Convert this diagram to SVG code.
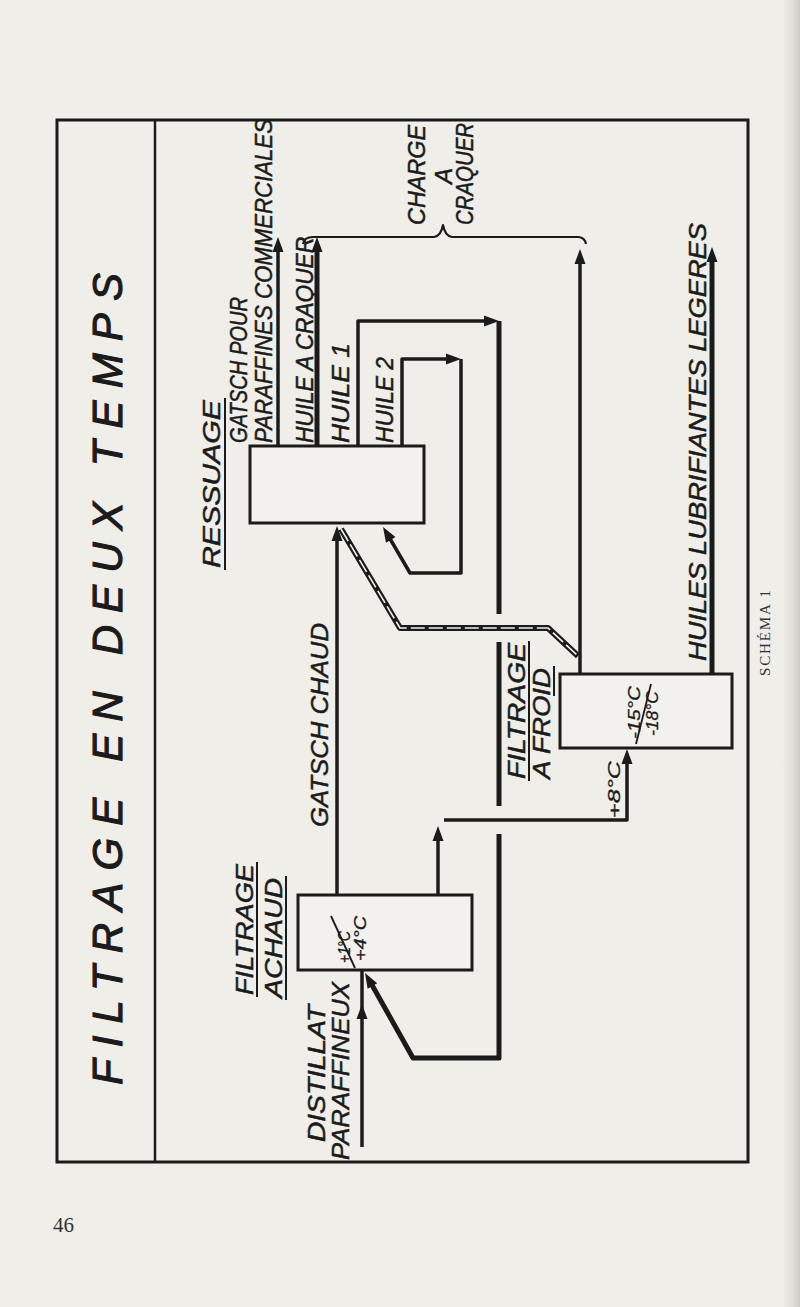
<svg xmlns="http://www.w3.org/2000/svg" xmlns:xlink="http://www.w3.org/1999/xlink" width="800" height="1307" viewBox="0 0 800 1307">
<style>
.ln{fill:none;stroke:#1b1b1b;stroke-width:3.5;stroke-linejoin:round;stroke-linecap:butt}
.thk{stroke-width:5}
.thin{stroke-width:2.2}
.box{fill:#f3f1ed;stroke:#1b1b1b;stroke-width:3}
.lbl{font-family:"Liberation Sans",Arial,sans-serif;font-style:italic;font-size:24px;fill:#1b1b1b;stroke:#1b1b1b;stroke-width:0.5}
.big{font-size:42px;stroke-width:1.1}
.sm{font-size:16px;stroke-width:0.3}
.ul{stroke:#1b1b1b;stroke-width:2}
.ah{fill:#1b1b1b}
.pg{font-family:"Liberation Serif","Times New Roman",serif;fill:#333}
</style>
<defs>
<path id="ah" d="M0,0 L-15,-5.5 L-15,5.5 Z"/>
<linearGradient id="edge" x1="0" y1="0" x2="1" y2="0">
<stop offset="0" stop-color="#dcd9d4" stop-opacity="0"/>
<stop offset="1" stop-color="#c9c6c1" stop-opacity="0.9"/>
</linearGradient>
</defs>
<rect width="800" height="1307" fill="#f0eee9"/>
<rect x="782" y="0" width="18" height="1307" fill="url(#edge)"/>

<g id="frame">
<rect x="57" y="120" width="691" height="1042" fill="none" stroke="#1b1b1b" stroke-width="3"/>
<line x1="155" y1="120" x2="155" y2="1162" stroke="#1b1b1b" stroke-width="2.5"/>
<text class="lbl big" transform="translate(122,1085) rotate(-90)" textLength="812" lengthAdjust="spacing">FILTRAGE EN DEUX TEMPS</text>
</g>

<g id="connectors">
<line class="ln" x1="278" y1="446" x2="278" y2="250"/>
<use href="#ah" class="ah" transform="translate(278,237) rotate(-90)"/>
<line class="ln thk" x1="317" y1="446" x2="317" y2="250"/>
<use href="#ah" class="ah" transform="translate(317,237) rotate(-90)"/>
<path class="ln thin" d="M303,244 Q304,237 313,237 L434,237 Q441,236 443,225 Q445,236 452,237 L579,237 Q585,238 586,244"/>
<polyline class="ln" points="358,446 358,321 486,321"/>
<use href="#ah" class="ah" transform="translate(499,321) rotate(0)"/>
<path class="ln thk" d="M499,321 L499,614 M499,642 L499,806 M499,834 L499,1058 L413,1058 L372,985"/>
<use href="#ah" class="ah" transform="translate(365,973) rotate(-119.5)"/>
<polyline class="ln" points="402,446 402,359 448,359"/>
<use href="#ah" class="ah" transform="translate(461,359) rotate(0)"/>
<polyline class="ln" points="461,359 461,573 410,573 389,537"/>
<use href="#ah" class="ah" transform="translate(383,527) rotate(-121)"/>
<line class="ln" x1="337" y1="895" x2="337" y2="540"/>
<use href="#ah" class="ah" transform="translate(337,526) rotate(-90)"/>
<polyline class="ln" style="stroke-width:6" points="341,529 400,628 548,628 578,656"/>
<polyline fill="none" stroke="#f3f1ed" stroke-width="1.6" stroke-dasharray="14 4" points="341,529 400,628 548,628 578,656"/>
<line class="ln" x1="580" y1="674" x2="580" y2="262"/>
<use href="#ah" class="ah" transform="translate(580,249) rotate(-90)"/>
<line class="ln thk" x1="712" y1="674" x2="712" y2="262"/>
<use href="#ah" class="ah" transform="translate(712,247) rotate(-90)"/>
<line class="ln" x1="438" y1="895" x2="438" y2="838"/>
<use href="#ah" class="ah" transform="translate(438,826) rotate(-90)"/>
<polyline class="ln" points="444,820 627,820 627,762"/>
<use href="#ah" class="ah" transform="translate(627,749) rotate(-90)"/>
<line class="ln" x1="362" y1="1147" x2="362" y2="970"/>
<use href="#ah" class="ah" transform="translate(362,1004) rotate(-90)"/>
</g>

<g id="ressuage">
<rect class="box" x="250" y="446" width="174" height="77"/>
<text class="lbl" transform="translate(220,568) rotate(-90)" textLength="168" lengthAdjust="spacingAndGlyphs">RESSUAGE</text>
<line class="ul" x1="225" y1="570" x2="225" y2="398"/>
</g>

<g id="filtrage-chaud">
<rect class="box" x="298" y="895" width="174" height="75"/>
<text class="lbl" transform="translate(253,995) rotate(-90)" textLength="131" lengthAdjust="spacingAndGlyphs">FILTRAGE</text>
<line class="ul" x1="257" y1="997" x2="257" y2="862"/>
<text class="lbl" transform="translate(282,998) rotate(-90)" textLength="120" lengthAdjust="spacingAndGlyphs">ACHAUD</text>
<line class="ul" x1="286" y1="1000" x2="286" y2="876"/>
<text class="lbl sm" transform="translate(350,963) rotate(-90)" textLength="32" lengthAdjust="spacingAndGlyphs">+1°C</text>
<line x1="331" y1="916" x2="355" y2="968" stroke="#1b1b1b" stroke-width="1.8"/>
<text class="lbl sm" transform="translate(366,961) rotate(-90)" textLength="45" lengthAdjust="spacingAndGlyphs">+4°C</text>
</g>

<g id="filtrage-froid">
<rect class="box" x="560" y="674" width="172" height="74"/>
<text class="lbl" transform="translate(525,779) rotate(-90)" textLength="136" lengthAdjust="spacingAndGlyphs">FILTRAGE</text>
<line class="ul" x1="529" y1="781" x2="529" y2="641"/>
<text class="lbl" transform="translate(550,779) rotate(-90)" textLength="111" lengthAdjust="spacingAndGlyphs">A FROID</text>
<line class="ul" x1="554" y1="696" x2="554" y2="666"/>
<text class="lbl sm" transform="translate(640,739) rotate(-90)" textLength="53" lengthAdjust="spacingAndGlyphs">-15°C</text>
<line x1="636" y1="744" x2="651" y2="684" stroke="#1b1b1b" stroke-width="1.8"/>
<text class="lbl sm" transform="translate(658,736) rotate(-90)" textLength="45" lengthAdjust="spacingAndGlyphs">-18°C</text>
</g>

<g id="labels">
<text class="lbl" transform="translate(247,443) rotate(-90)" textLength="146" lengthAdjust="spacingAndGlyphs">GATSCH POUR</text>
<text class="lbl" transform="translate(272,443) rotate(-90)" textLength="324" lengthAdjust="spacingAndGlyphs">PARAFFINES COMMERCIALES</text>
<text class="lbl" transform="translate(313,443) rotate(-90)" textLength="206" lengthAdjust="spacingAndGlyphs">HUILE A CRAQUER</text>
<text class="lbl" transform="translate(349,443) rotate(-90)" textLength="100" lengthAdjust="spacingAndGlyphs">HUILE 1</text>
<text class="lbl" transform="translate(393,443) rotate(-90)" textLength="86" lengthAdjust="spacingAndGlyphs">HUILE 2</text>
<text class="lbl" transform="translate(425,175) rotate(-90)" text-anchor="middle" textLength="100" lengthAdjust="spacingAndGlyphs">CHARGE</text>
<text class="lbl" transform="translate(452,176) rotate(-90)" text-anchor="middle">A</text>
<text class="lbl" transform="translate(473,174) rotate(-90)" text-anchor="middle" textLength="102" lengthAdjust="spacingAndGlyphs">CRAQUER</text>
<text class="lbl" transform="translate(706,661) rotate(-90)" textLength="438" lengthAdjust="spacingAndGlyphs">HUILES LUBRIFIANTES LEGERES</text>
<text class="lbl" transform="translate(328,827) rotate(-90)" textLength="204" lengthAdjust="spacingAndGlyphs">GATSCH CHAUD</text>
<text class="lbl" transform="translate(325,1142) rotate(-90)" textLength="137" lengthAdjust="spacingAndGlyphs">DISTILLAT</text>
<text class="lbl" transform="translate(349,1160) rotate(-90)" textLength="178" lengthAdjust="spacingAndGlyphs">PARAFFINEUX</text>
<text class="lbl sm" transform="translate(620,818) rotate(-90)" textLength="57" lengthAdjust="spacingAndGlyphs">+8°C</text>
</g>

<g id="page">
<text class="pg" font-size="15" transform="translate(770,676) rotate(-90)" textLength="86" lengthAdjust="spacing">SCHÉMA 1</text>
<text class="pg" font-size="21" x="53" y="1232">46</text>
</g>
</svg>
